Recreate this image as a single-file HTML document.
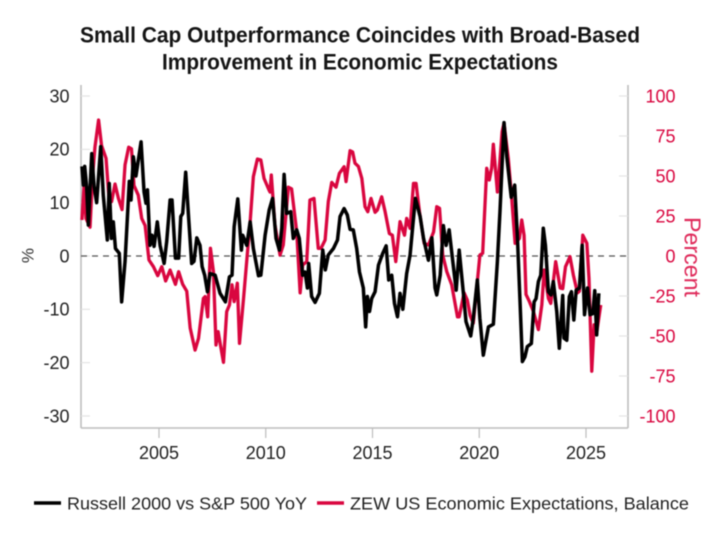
<!DOCTYPE html>
<html lang="en">
<head>
<meta charset="utf-8">
<title>Small Cap Outperformance</title>
<style>
html,body{margin:0;padding:0;background:#fff;width:722px;height:550px;overflow:hidden}
svg{display:block;font-family:"Liberation Sans",sans-serif;filter:blur(0.4px)}
</style>
</head>
<body>
<svg id="chart" width="722" height="550" viewBox="0 0 722 550" xmlns="http://www.w3.org/2000/svg">
  <rect width="722" height="550" fill="#fff"/>
  <text x="360" y="42.5" text-anchor="middle" font-size="22" font-weight="bold" fill="#151515" textLength="560" lengthAdjust="spacingAndGlyphs">Small Cap Outperformance Coincides with Broad-Based</text>
  <text x="360" y="69.5" text-anchor="middle" font-size="22" font-weight="bold" fill="#151515" textLength="396" lengthAdjust="spacingAndGlyphs">Improvement in Economic Expectations</text>
  <g id="axes"></g>
  <g id="series"></g>
  <text transform="translate(33.5,255.5) rotate(-90)" text-anchor="middle" font-size="17" fill="#333">%</text>
  <text transform="translate(684.5,257) rotate(90)" text-anchor="middle" font-size="23" fill="#df2a5a" textLength="80" lengthAdjust="spacingAndGlyphs">Percent</text>
  <g>
    <line x1="34" x2="61" y1="503" y2="503" stroke="#000" stroke-width="3.4"/>
    <text x="67" y="509.5" font-size="17.5" fill="#222" textLength="240" lengthAdjust="spacingAndGlyphs">Russell 2000 vs S&amp;P 500 YoY</text>
    <line x1="317" x2="344" y1="503" y2="503" stroke="#d9063f" stroke-width="3.4"/>
    <text x="350" y="509.5" font-size="17.5" fill="#222" textLength="339" lengthAdjust="spacingAndGlyphs">ZEW US Economic Expectations, Balance</text>
  </g>
</svg>
<script>
const xTickYears = [2005, 2010, 2015, 2020, 2025];
const leftTicks = [30, 20, 10, 0, -10, -20, -30];
const rightTicks = [100, 75, 50, 25, 0, -25, -50, -75, -100];

const russellDates = [2001.39,2001.46,2001.52,2001.61,2001.69,2001.85,2001.96,2002.08,2002.27,2002.39,2002.58,2002.67,2002.77,2002.86,2002.96,2003.14,2003.25,2003.41,2003.61,2003.69,2003.80,2003.92,2004.16,2004.30,2004.39,2004.46,2004.58,2004.67,2004.77,2004.92,2005.05,2005.24,2005.36,2005.52,2005.61,2005.77,2005.92,2006.02,2006.11,2006.25,2006.39,2006.53,2006.64,2006.77,2006.92,2007.02,2007.14,2007.27,2007.39,2007.63,2007.86,2008.11,2008.30,2008.42,2008.52,2008.69,2008.86,2008.92,2009.11,2009.27,2009.42,2009.66,2009.77,2009.97,2010.16,2010.32,2010.48,2010.64,2010.75,2010.86,2010.98,2011.17,2011.29,2011.45,2011.57,2011.73,2011.84,2011.95,2012.01,2012.15,2012.31,2012.51,2012.67,2012.79,2012.93,2013.17,2013.36,2013.48,2013.67,2013.82,2013.95,2014.10,2014.26,2014.39,2014.57,2014.68,2014.76,2014.86,2014.96,2015.12,2015.28,2015.48,2015.64,2015.76,2015.90,2016.03,2016.17,2016.29,2016.42,2016.60,2016.76,2016.89,2017.01,2017.23,2017.39,2017.62,2017.78,2017.93,2018.01,2018.17,2018.32,2018.45,2018.59,2018.76,2018.92,2019.06,2019.25,2019.38,2019.60,2019.72,2019.91,2020.03,2020.19,2020.43,2020.66,2020.85,2020.97,2021.16,2021.29,2021.50,2021.66,2021.79,2021.91,2022.02,2022.14,2022.25,2022.44,2022.57,2022.66,2022.77,2022.88,2023.00,2023.10,2023.24,2023.36,2023.47,2023.63,2023.75,2023.91,2023.97,2024.10,2024.22,2024.32,2024.43,2024.54,2024.69,2024.82,2024.93,2025.07,2025.19,2025.32,2025.41,2025.50,2025.60];
const russellValues = [16.8,13.3,16.8,13,5.8,19.2,13,10,20.5,11.4,3,13.6,3.3,6.4,1.4,0.5,-8.6,-1,14,10.5,18.6,15,21.4,12,9.9,12.4,2,3.9,1.8,6.4,2,-1.4,2.7,10.5,10.5,-0.4,-0.4,7.4,8,15.7,7,-1.4,-1,3.4,2,-2,-3.6,-6.7,-3.3,-3.6,-7,-8.6,-3.9,-3.6,5.5,10.7,1.1,3.9,2,6.4,1.4,-3.7,-3.6,3.9,8.6,10.8,3.3,1.1,5.2,15.3,8,8.3,3.3,4.9,3.3,-3.6,-3,-6,-1.4,-7.6,-8.7,-7,1.1,-2.6,0.2,1.4,3,7.4,8.9,7.7,5,4.9,1.4,-3,-6,-13.3,-7.6,-10.4,-8,-6.7,-1.7,0.5,1.9,-4.5,-3.6,-8.9,-11.4,-7,-10,-3.3,0.2,5.8,10.8,7.4,3.3,-0.8,3.4,-6,-7.3,-3.6,5.7,2,4.9,-1,-6.4,1.1,-6.7,-12.3,-15,-11.7,-4.5,-11.7,-18.6,-13.3,-12.8,-1,8.3,25,18.6,11,13.3,3.3,-8.6,-19.8,-18.9,-17,-16.4,-8.6,-8,-4.8,-3.6,5.2,2,-6.7,-7.3,-4.8,-10.4,-17.3,-7.4,-15.4,-15.8,-7.6,-6.7,-12,-6.4,-6,2,-11,-6,-11,-10.8,-6.5,-14.8,-7];

const zewDates = [2001.39,2001.49,2001.58,2001.77,2001.89,2002.00,2002.17,2002.31,2002.52,2002.67,2002.78,2002.94,2003.10,2003.27,2003.41,2003.58,2003.71,2003.83,2004.03,2004.19,2004.35,2004.53,2004.74,2004.94,2005.13,2005.31,2005.52,2005.77,2005.92,2006.11,2006.30,2006.46,2006.69,2006.85,2007.08,2007.16,2007.28,2007.41,2007.55,2007.67,2007.77,2008.02,2008.17,2008.30,2008.42,2008.52,2008.67,2008.77,2008.96,2009.14,2009.27,2009.42,2009.61,2009.77,2009.92,2010.16,2010.20,2010.26,2010.43,2010.67,2010.82,2011.06,2011.21,2011.45,2011.61,2011.73,2011.92,2012.07,2012.26,2012.46,2012.59,2012.78,2012.93,2013.09,2013.29,2013.45,2013.67,2013.76,2013.95,2014.07,2014.18,2014.34,2014.50,2014.65,2014.78,2014.93,2015.12,2015.23,2015.43,2015.59,2015.79,2015.93,2016.09,2016.29,2016.50,2016.60,2016.76,2016.92,2017.04,2017.20,2017.42,2017.62,2017.86,2018.01,2018.14,2018.29,2018.48,2018.71,2018.98,2019.06,2019.29,2019.44,2019.57,2019.72,2019.91,2020.03,2020.16,2020.35,2020.47,2020.58,2020.66,2020.85,2020.97,2021.07,2021.16,2021.36,2021.52,2021.68,2021.88,2021.99,2022.10,2022.19,2022.35,2022.54,2022.77,2022.93,2023.04,2023.24,2023.35,2023.58,2023.79,2023.91,2024.04,2024.25,2024.41,2024.60,2024.69,2024.85,2025.04,2025.14,2025.27,2025.38,2025.50,2025.69];
const zewValues = [22.5,44,23.5,18,50,68,85,69,61,34,34,45,36,29,57,68,67,44,38,23.5,19,-2.5,-6.7,-12.3,-6.7,-15.6,-8.8,-17.7,-9.8,-17.7,-22,-45,-58.8,-51.5,-26.5,-25.4,-38,4.8,-9.8,-55.6,-47.3,-66.5,-34.8,-30.6,-18,-28.5,-17,-54.6,-26.5,1.7,21.5,49.6,60.6,60,48.5,41,40,50.6,19.4,0.6,6.9,43,42,15.2,-23,-5.6,-3.5,35,36,4.8,4.8,10,34,46,43,51.7,55.8,46.5,65.8,65,58,56,48.5,30.8,27.7,36,27.3,28.8,37,27.7,14,13,-3.5,21.5,13,23.5,17.3,45.4,45.4,27.7,7.9,6.9,15,30.8,29.8,0.6,-9.8,-18,-38,-38,-23,-27.5,-37,-42,-16,0.6,1.7,54.8,47.5,54.8,69.8,40,60,77.7,83,61,36,7.9,11,22.5,13,-24,-28.5,-34.8,-46,-30.6,-8.8,-26.5,-29.6,-3.5,-20,-20.4,-6.7,-0.4,-12,-23,-22,13,8,-14,-72,-43,-48,-30.6];

const NS = 'http://www.w3.org/2000/svg';
const plotLeft = 81, plotRight = 628, plotBottom = 428, plotTop = 85;
const xScale = year => 159 + (year - 2005) * 21.35;
const yLeft = v => 256 - v * 5.333;
const yRight = v => 256 - v * 1.6;
const axes = document.getElementById('axes');
const series = document.getElementById('series');

function make(tag, attrs, parent) {
  const el = document.createElementNS(NS, tag);
  for (const k in attrs) el.setAttribute(k, attrs[k]);
  parent.appendChild(el);
  return el;
}

const leftLine = make('line', {x1: plotLeft, x2: plotLeft, y1: plotTop, y2: plotBottom, stroke: '#bdbdbd', 'stroke-width': 1.6}, axes);


const rightLine = make('line', {x1: plotRight, x2: plotRight, y1: plotTop, y2: plotBottom, stroke: '#bdbdbd', 'stroke-width': 1.6}, axes);


const bottomLine = make('line', {x1: plotLeft, x2: plotRight, y1: plotBottom, y2: plotBottom, stroke: '#bdbdbd', 'stroke-width': 1.6}, axes);



xTickYears.forEach(year => {
  const x = xScale(year);
  const tick = make('line', {x1: x, x2: x, y1: plotBottom, y2: 438, stroke: '#bdbdbd', 'stroke-width': 1.2}, axes);
  
  
  const label = make('text', {x: x, y: 459, 'text-anchor': 'middle', 'font-size': 18, fill: '#222'}, axes);
  
  
  label.textContent = String(year);
});

leftTicks.forEach(v => {
  const y = yLeft(v);
  const tick = make('line', {x1: plotLeft, x2: plotLeft + 9, y1: y, y2: y, stroke: '#e4e4e4', 'stroke-width': 1.2}, axes);
  
  
  const label = make('text', {x: 69.5, y: y + 6.3, 'text-anchor': 'end', 'font-size': 18, fill: '#222'}, axes);
  
  
  label.textContent = String(v);
});

rightTicks.forEach(v => {
  const y = yRight(v);
  const tick = make('line', {x1: plotRight - 9, x2: plotRight, y1: y, y2: y, stroke: '#e4e4e4', 'stroke-width': 1.2}, axes);
  
  
  const label = make('text', {x: 675.5, y: y + 6.3, 'text-anchor': 'end', 'font-size': 18, fill: '#d9063f'}, axes);
  
  
  label.textContent = String(v);
});

const zeroLine = make('line', {x1: plotLeft, x2: plotRight, y1: yLeft(0), y2: yLeft(0), stroke: '#555', 'stroke-width': 1.2, 'stroke-dasharray': '6 5'}, axes);



function pathFrom(dates, values, yFn) {
  return dates.map((d, i) => (i ? 'L' : 'M') + xScale(d).toFixed(2) + ' ' + yFn(values[i]).toFixed(2)).join('');
}

const zewLine = make('path', {d: pathFrom(zewDates, zewValues, yRight), fill: 'none', stroke: '#d9063f', 'stroke-width': 3.3, 'stroke-linejoin': 'round'}, series);


const russellLine = make('path', {d: pathFrom(russellDates, russellValues, yLeft), fill: 'none', stroke: '#000', 'stroke-width': 3.5, 'stroke-linejoin': 'round'}, series);


</script>
</body>
</html>
